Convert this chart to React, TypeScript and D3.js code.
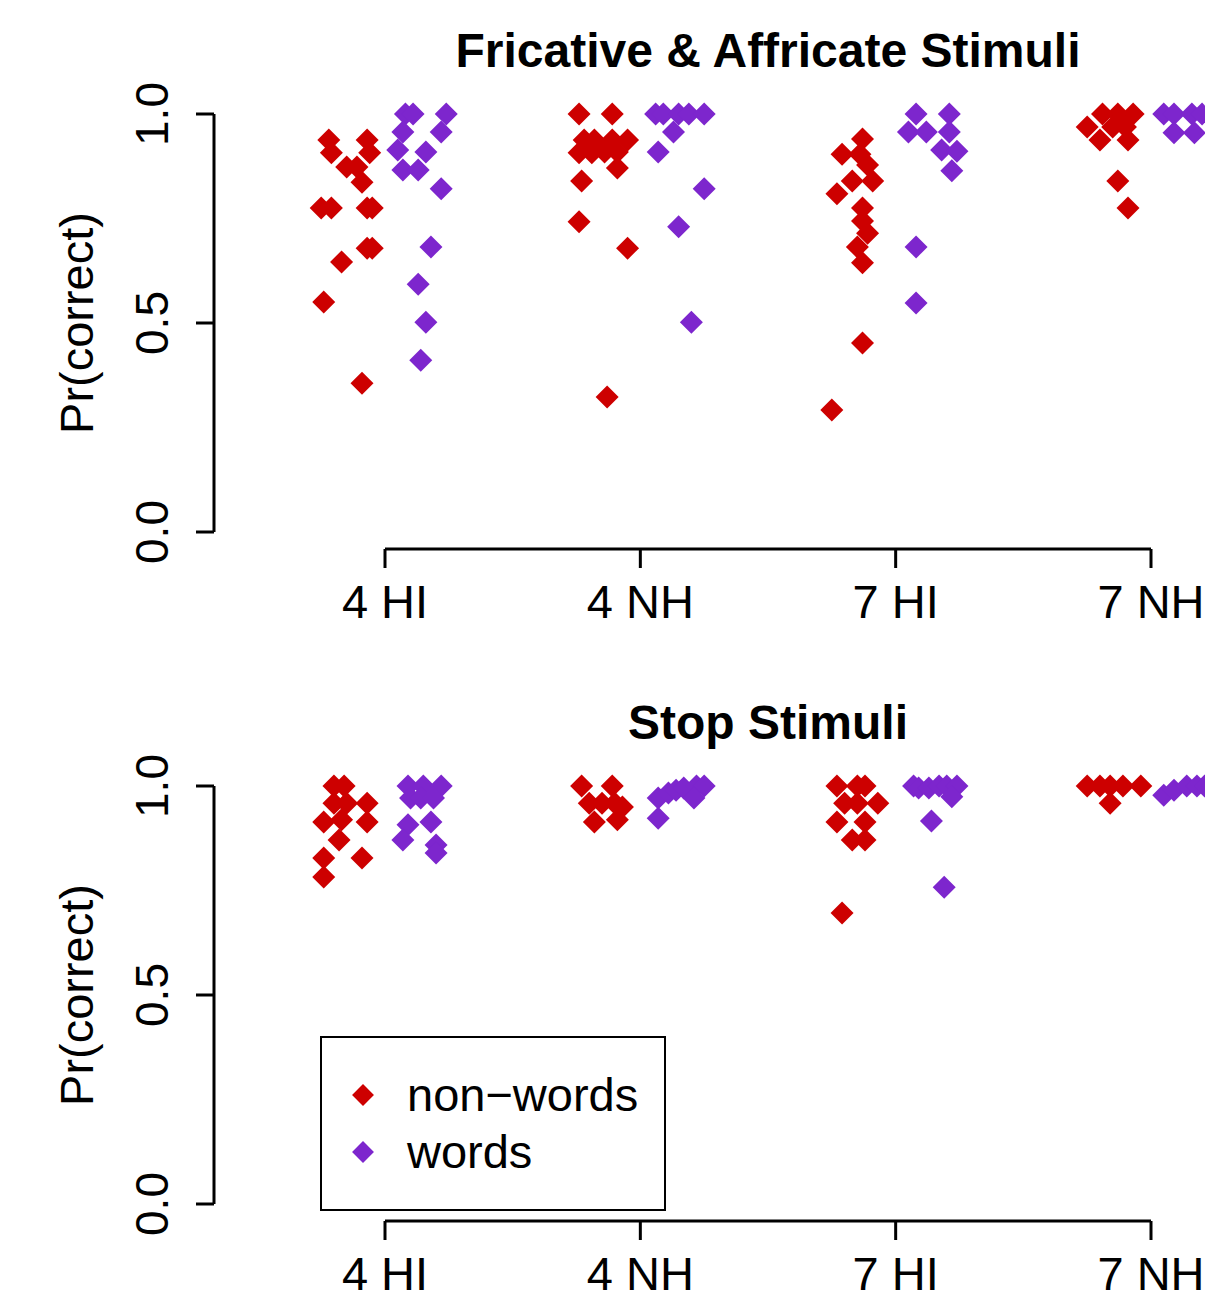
import React from "react";
import * as d3 from "d3";

const categories = ["4 HI", "4 NH", "7 HI", "7 NH"];
const yTicks = [0, 0.5, 1];
const yTickLabels = ["0.0", "0.5", "1.0"];
const seriesNames = ["non\u2212words", "words"];
const seriesColors = ["#CD0000", "#7D26CD"];
const panelTitles = ["Fricative & Affricate Stimuli", "Stop Stimuli"];

// [jittered group position, Pr(correct)]
const fricNonWords: [number, number][] = [
  [0.78, 0.938], [0.93, 0.938], [0.79, 0.907], [0.94, 0.907], [0.85, 0.873], [0.89, 0.873],
  [0.91, 0.837], [0.75, 0.775], [0.79, 0.775], [0.93, 0.775], [0.95, 0.775], [0.93, 0.679],
  [0.95, 0.679], [0.83, 0.646], [0.76, 0.55], [0.91, 0.356],
  [1.76, 1.0], [1.89, 1.0], [1.78, 0.938], [1.82, 0.938], [1.89, 0.938], [1.95, 0.938],
  [1.76, 0.907], [1.81, 0.907], [1.86, 0.909], [1.91, 0.909], [1.91, 0.871], [1.77, 0.84],
  [1.76, 0.742], [1.95, 0.679], [1.87, 0.323],
  [2.87, 0.94], [2.79, 0.904], [2.86, 0.904], [2.89, 0.878], [2.91, 0.84], [2.83, 0.84],
  [2.77, 0.809], [2.87, 0.775], [2.87, 0.744], [2.89, 0.715], [2.85, 0.682], [2.87, 0.644],
  [2.87, 0.452], [2.75, 0.292],
  [3.75, 0.969], [3.81, 1.0], [3.87, 1.0], [3.93, 1.0], [3.8, 0.938], [3.91, 0.938],
  [3.85, 0.969], [3.9, 0.969], [3.87, 0.84], [3.91, 0.775],
];
const fricWords: [number, number][] = [
  [1.08, 1.0], [1.11, 1.0], [1.24, 1.0], [1.07, 0.957], [1.22, 0.957], [1.05, 0.914],
  [1.16, 0.909], [1.07, 0.866], [1.13, 0.866], [1.22, 0.821], [1.18, 0.682], [1.13, 0.593],
  [1.16, 0.502], [1.14, 0.411],
  [2.06, 1.0], [2.09, 1.0], [2.15, 1.0], [2.19, 1.0], [2.25, 1.0], [2.13, 0.957],
  [2.07, 0.909], [2.25, 0.821], [2.15, 0.73], [2.2, 0.502],
  [3.08, 1.0], [3.21, 1.0], [3.05, 0.957], [3.12, 0.957], [3.21, 0.957], [3.18, 0.914],
  [3.24, 0.911], [3.22, 0.864], [3.08, 0.682], [3.08, 0.548],
  [4.05, 1.0], [4.09, 1.0], [4.16, 1.0], [4.2, 1.0], [4.09, 0.955], [4.17, 0.955],
];
const stopNonWords: [number, number][] = [
  [0.8, 1.0], [0.84, 1.0], [0.8, 0.959], [0.85, 0.959], [0.93, 0.959], [0.76, 0.914],
  [0.83, 0.919], [0.93, 0.914], [0.82, 0.871], [0.76, 0.828], [0.91, 0.828], [0.76, 0.782],
  [1.77, 1.0], [1.89, 1.0], [1.8, 0.959], [1.85, 0.959], [1.9, 0.959], [1.93, 0.95],
  [1.82, 0.914], [1.91, 0.919],
  [2.77, 1.0], [2.85, 1.0], [2.88, 1.0], [2.8, 0.959], [2.85, 0.959], [2.93, 0.959],
  [2.77, 0.914], [2.88, 0.914], [2.83, 0.871], [2.88, 0.871], [2.79, 0.696],
  [3.75, 1.0], [3.8, 1.0], [3.84, 1.0], [3.89, 1.0], [3.96, 1.0], [3.84, 0.959],
];
const stopWords: [number, number][] = [
  [1.09, 1.0], [1.15, 1.0], [1.22, 1.0], [1.1, 0.971], [1.14, 0.971], [1.19, 0.971],
  [1.09, 0.907], [1.18, 0.914], [1.07, 0.871], [1.2, 0.859], [1.2, 0.84],
  [2.07, 0.923], [2.07, 0.971], [2.11, 0.983], [2.14, 0.99], [2.17, 0.995], [2.22, 1.0],
  [2.25, 1.0], [2.21, 0.971],
  [3.07, 1.0], [3.09, 0.995], [3.13, 0.995], [3.17, 1.0], [3.2, 1.0], [3.24, 1.0],
  [3.22, 0.974], [3.14, 0.916], [3.19, 0.758],
  [4.05, 0.978], [4.09, 0.99], [4.14, 1.0], [4.18, 1.0], [4.21, 1.0],
];

const panels = [
  { title: panelTitles[0], series: [fricNonWords, fricWords], top: 114, legend: false },
  { title: panelTitles[1], series: [stopNonWords, stopWords], top: 786, legend: true },
];

const FONT = "'Liberation Sans', Arial, Helvetica, sans-serif";
const diamond = "M0,-11.5L11.5,0L0,11.5L-11.5,0Z";

function Panel({ p }: { p: (typeof panels)[number] }) {
  const x = d3.scaleLinear().domain([1, 4]).range([385, 1151]);
  const y = d3.scaleLinear().domain([0, 1]).range([p.top + 418, p.top]);
  const axisY = p.top + 435;
  const axisX = 214;
  return (
    <g>
      <text x={768} y={p.top - 47} textAnchor="middle" fontFamily={FONT} fontWeight="bold" fontSize={48}>
        {p.title}
      </text>
      {/* y axis */}
      <line x1={axisX} x2={axisX} y1={y(0)} y2={y(1)} stroke="#000" strokeWidth={3} />
      {yTicks.map((t, i) => (
        <g key={i}>
          <line x1={axisX - 18} x2={axisX} y1={y(t)} y2={y(t)} stroke="#000" strokeWidth={3} />
          <text
            transform={`translate(168,${y(t)}) rotate(-90)`}
            textAnchor="middle"
            fontFamily={FONT}
            fontSize={46}
          >
            {yTickLabels[i]}
          </text>
        </g>
      ))}
      <text
        transform={`translate(93,${y(0.5)}) rotate(-90)`}
        textAnchor="middle"
        fontFamily={FONT}
        fontSize={47}
      >
        Pr(correct)
      </text>
      {/* x axis */}
      <line x1={x(1)} x2={x(4)} y1={axisY} y2={axisY} stroke="#000" strokeWidth={3} />
      {categories.map((c, i) => (
        <g key={c}>
          <line x1={x(i + 1)} x2={x(i + 1)} y1={axisY} y2={axisY + 19} stroke="#000" strokeWidth={3} />
          <text x={x(i + 1)} y={axisY + 69} textAnchor="middle" fontFamily={FONT} fontSize={47}>
            {c}
          </text>
        </g>
      ))}
      {/* points */}
      {p.series.map((s, si) => (
        <g key={si} fill={seriesColors[si]}>
          {s.map((d, k) => (
            <path key={k} d={diamond} transform={`translate(${x(d[0])},${y(d[1])})`} />
          ))}
        </g>
      ))}
      {p.legend && (
        <g>
          <rect x={321} y={1037} width={344} height={173} fill="none" stroke="#000" strokeWidth={2} />
          {seriesNames.map((n, i) => (
            <g key={n}>
              <path d={diamond} transform={`translate(363,${1095 + i * 57}) scale(0.95)`} fill={seriesColors[i]} />
              <text x={407} y={1111 + i * 57} fontFamily={FONT} fontSize={47}>
                {n}
              </text>
            </g>
          ))}
        </g>
      )}
    </g>
  );
}

export default function App() {
  return (
    <svg
      width={1205}
      height={1300}
      viewBox="0 0 1205 1300"
      style={{ position: "absolute", left: 0, top: 0, background: "#fff" }}
    >
      <rect width={1205} height={1300} fill="#fff" />
      {panels.map((p, i) => (
        <Panel key={i} p={p} />
      ))}
    </svg>
  );
}
